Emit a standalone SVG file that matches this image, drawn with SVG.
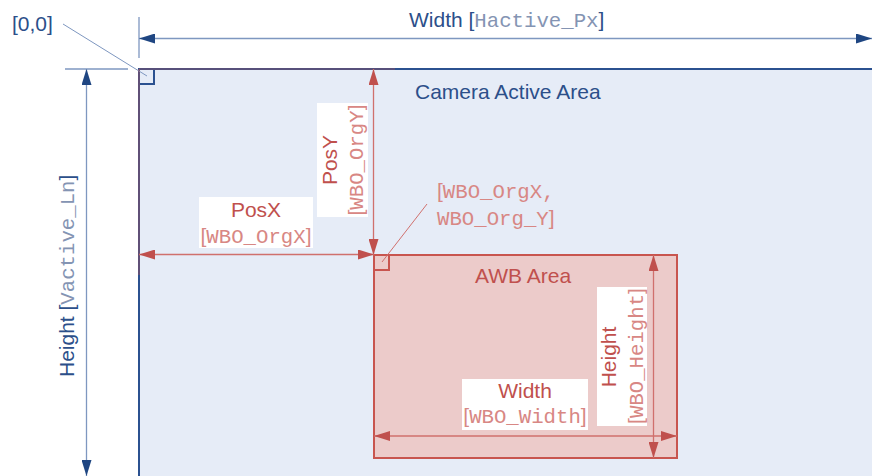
<svg xmlns="http://www.w3.org/2000/svg" width="872" height="476" viewBox="0 0 872 476">
  <style>
    .sans { font-family: "Liberation Sans", Arial, sans-serif; font-size: 21px; }
    .mono { font-family: "Liberation Mono", "Courier New", monospace; font-size: 20.7px; }
    .blue { fill: #2C4F8A; }
    .blue-lt { fill: #8494B3; }
    .red { fill: #C0504D; }
    .red-lt { fill: #D88784; }
    .dim-blue { stroke: #7E97C0; stroke-width: 1.3; fill: none; }
    .dim-red { stroke: #D0706D; stroke-width: 1.3; fill: none; }
    .label-bg { fill: #FFFFFF; }
  </style>
  <defs>
    <marker id="arrow-blue" markerUnits="userSpaceOnUse" markerWidth="16" markerHeight="10" refX="16" refY="5" orient="auto-start-reverse">
      <path d="M0,0 L16,5 L0,10 Z" fill="#1F4682"/>
    </marker>
    <marker id="arrow-red" markerUnits="userSpaceOnUse" markerWidth="16" markerHeight="10" refX="16" refY="5" orient="auto-start-reverse">
      <path d="M0,0 L16,5 L0,10 Z" fill="#C0504D"/>
    </marker>
  </defs>

  <rect width="872" height="476" fill="#FFFFFF"/>

  <!-- full sensor area -->
  <g id="camera-area">
    <rect x="139" y="69" width="740" height="420" fill="#E6ECF7" stroke="#2B5190" stroke-width="2"/>
    <rect x="139" y="69" width="15" height="15" fill="none" stroke="#2B5190" stroke-width="2"/>
    <text class="sans blue" x="415" y="99">Camera Active Area</text>
  </g>

  <!-- white balance window -->
  <g id="awb-area">
    <rect x="374" y="255" width="303" height="203" fill="#ECCBCA" stroke="#C8554F" stroke-width="2"/>
    <rect x="374" y="255" width="15" height="15" fill="none" stroke="#C8554F" stroke-width="2"/>
    <text class="sans red" x="475" y="283">AWB Area</text>
  </g>

  <g id="connectors">
    <!-- origin leader -->
    <line x1="63" y1="24" x2="147" y2="76" stroke="#7E97C0" stroke-width="1"/>
    <!-- sensor width -->
    <line class="dim-blue" x1="139" y1="17" x2="139" y2="58"/>
    <line class="dim-blue" x1="139" y1="38.5" x2="872" y2="38.5" marker-start="url(#arrow-blue)" marker-end="url(#arrow-blue)"/>
    <!-- sensor height -->
    <line class="dim-blue" x1="65" y1="69" x2="128" y2="69"/>
    <line class="dim-blue" x1="86.5" y1="69" x2="86.5" y2="476" marker-start="url(#arrow-blue)" marker-end="url(#arrow-blue)"/>
    <!-- extension lines of the offset dimensions along the sensor edges -->
    <line x1="139" y1="69" x2="139" y2="275" stroke="#C0504D" stroke-width="1.2" stroke-opacity="0.6"/>
    <line x1="139" y1="69" x2="395" y2="69" stroke="#C0504D" stroke-width="1.2" stroke-opacity="0.6"/>
    <!-- offsets -->
    <line class="dim-red" x1="373.5" y1="69" x2="373.5" y2="255" marker-start="url(#arrow-red)" marker-end="url(#arrow-red)"/>
    <line class="dim-red" x1="139" y1="254.5" x2="374" y2="254.5" marker-start="url(#arrow-red)" marker-end="url(#arrow-red)"/>
    <!-- window origin leader -->
    <line x1="427" y1="204" x2="382" y2="262" stroke="#D0706D" stroke-width="1"/>
    <!-- window size -->
    <line class="dim-red" x1="374" y1="436" x2="677" y2="436" marker-start="url(#arrow-red)" marker-end="url(#arrow-red)"/>
    <line class="dim-red" x1="653.5" y1="255" x2="653.5" y2="458" marker-start="url(#arrow-red)" marker-end="url(#arrow-red)"/>
  </g>

  <g id="label-origin">
    <text class="sans blue" x="12" y="31">[0,0]</text>
  </g>

  <g id="label-width">
    <text class="sans blue" x="409" y="27">Width [<tspan class="mono blue-lt">Hactive_Px</tspan>]</text>
  </g>

  <g id="label-height">
    <text class="sans blue" transform="translate(74,377) rotate(-90)">Height [<tspan class="mono blue-lt">Vactive_Ln</tspan>]</text>
  </g>

  <g id="label-posx">
    <rect class="label-bg" x="199" y="197" width="114" height="51"/>
    <text class="sans red" x="256" y="217" text-anchor="middle">PosX</text>
    <text class="sans red-lt" x="256" y="243" text-anchor="middle">[<tspan class="mono red-lt">WBO_OrgX</tspan>]</text>
  </g>

  <g id="label-posy">
    <rect class="label-bg" x="317" y="103" width="51" height="114"/>
    <text class="sans red" transform="translate(337,160) rotate(-90)" text-anchor="middle">PosY</text>
    <text class="sans red-lt" transform="translate(363,160) rotate(-90)" text-anchor="middle">[<tspan class="mono red-lt">WBO_OrgY</tspan>]</text>
  </g>

  <g id="label-origin-awb">
    <text class="sans red-lt" x="437" y="198">[<tspan class="mono red-lt">WBO_OrgX,</tspan></text>
    <text class="mono red-lt" x="437" y="225">WBO_Org_Y<tspan class="sans red-lt">]</tspan></text>
  </g>

  <g id="label-awb-width">
    <rect class="label-bg" x="462" y="379" width="126" height="51"/>
    <text class="sans red" x="525" y="398" text-anchor="middle">Width</text>
    <text class="sans red-lt" x="525" y="423" text-anchor="middle">[<tspan class="mono red-lt">WBO_Width</tspan>]</text>
  </g>

  <g id="label-awb-height">
    <rect class="label-bg" x="597" y="287" width="50" height="139"/>
    <text class="sans red" transform="translate(616,357) rotate(-90)" text-anchor="middle">Height</text>
    <text class="sans red-lt" transform="translate(643,356) rotate(-90)" text-anchor="middle">[<tspan class="mono red-lt">WBO_Height</tspan>]</text>
  </g>
</svg>
